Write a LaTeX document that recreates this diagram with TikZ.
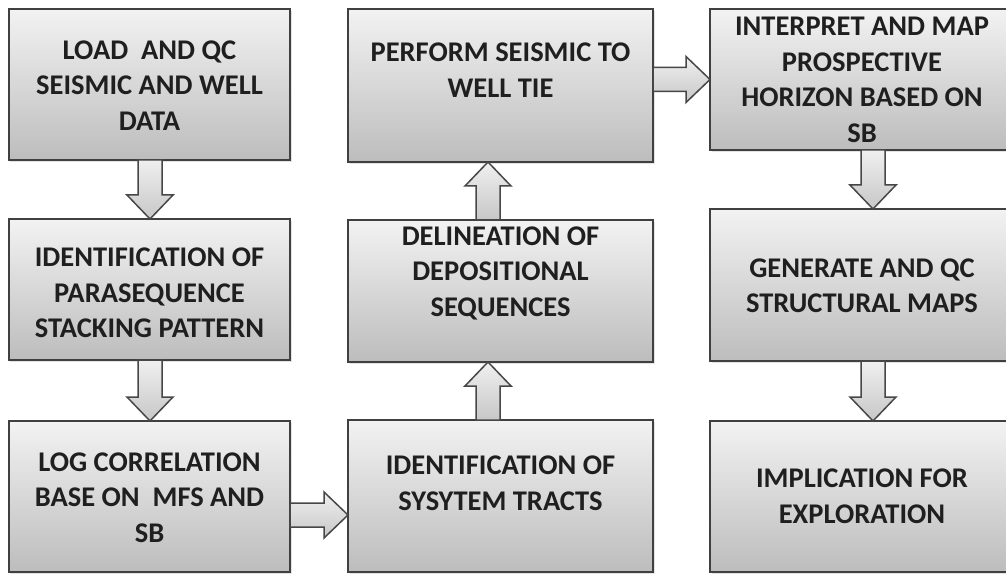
\documentclass[tikz,border=0pt]{standalone}
\usepackage{fontspec}
\setmainfont{Carlito}
\usetikzlibrary{calc,shadows}
\tikzset{
  box/.style={draw=black!75, line width=1.8bp, top color=black!5, bottom color=black!26,
    inner sep=0pt, outer sep=0pt, rectangle,
    drop shadow={opacity=0.22, shadow xshift=1.5bp, shadow yshift=-2bp}},
  txt/.style={align=center, inner sep=0pt, text=black!88,
    font=\bfseries\fontsize{28.5bp}{35.5bp}\selectfont},
  blockarrow/.style={draw=black!72, line width=1.5bp, line join=miter,
    top color=black!6, bottom color=black!22}
}
\newcommand\arrdown[3]{%
  \path ($(#1.south)+(#3,0)$) coordinate (s) (s |- #2.north) coordinate (t);
  \draw[blockarrow] ($(s)+(-12,0)$) -- ($(t)+(-12,-24)$) -- ($(t)+(-23,-24)$) -- (t)
    -- ($(t)+(23,-24)$) -- ($(t)+(12,-24)$) -- ($(s)+(12,0)$) -- cycle;}
\newcommand\arrup[3]{%
  \path ($(#1.north)+(#3,0)$) coordinate (s) (s |- #2.south) coordinate (t);
  \draw[blockarrow] ($(s)+(-12,0)$) -- ($(t)+(-12,24)$) -- ($(t)+(-23,24)$) -- (t)
    -- ($(t)+(23,24)$) -- ($(t)+(12,24)$) -- ($(s)+(12,0)$) -- cycle;}
\newcommand\arrright[3]{%
  \path ($(#1.east)+(0,#3)$) coordinate (s) (s -| #2.west) coordinate (t);
  \draw[blockarrow] ($(s)+(0,-12)$) -- ($(t)+(-24,-12)$) -- ($(t)+(-24,-23)$) -- (t)
    -- ($(t)+(-24,23)$) -- ($(t)+(-24,12)$) -- ($(s)+(0,12)$) -- cycle;}
\begin{document}
\begin{tikzpicture}[x=1bp,y=-1bp]
\useasboundingbox (0,0) rectangle (1006,574);
\clip (0,0) rectangle (1006,574);
\fill[white] (0,0) rectangle (1006,574);

% boxes
\node[box, minimum width=281bp, minimum height=151bp] (b1) at (149.5,84.5) {};
\node[box, minimum width=281bp, minimum height=141bp] (b2) at (149.5,289.5) {};
\node[box, minimum width=281bp, minimum height=151bp] (b3) at (149.5,496.5) {};
\node[box, minimum width=305bp, minimum height=152bp] (b4) at (500.5,496) {};
\node[box, minimum width=305bp, minimum height=142bp] (b5) at (500.5,291) {};
\node[box, minimum width=305bp, minimum height=153bp] (b6) at (500.5,85.5) {};
\node[box, minimum width=304bp, minimum height=141bp] (b7) at (862,79.5) {};
\node[box, minimum width=304bp, minimum height=152bp] (b8) at (862,285) {};
\node[box, minimum width=304bp, minimum height=151bp] (b9) at (862,496.5) {};

% texts
\node[txt] (t1) at (149.5,85.5) {LOAD~ AND QC\\SEISMIC AND WELL\\DATA};
\node[txt] (t2) at (149.5,293) {IDENTIFICATION OF\\PARASEQUENCE\\STACKING PATTERN};
\node[txt] (t3) at (149.5,497.7) {LOG CORRELATION\\BASE ON~ MFS AND\\SB};
\node[txt] (t4) at (500.5,483) {IDENTIFICATION OF\\SYSYTEM TRACTS};
\node[txt] (t5) at (500.5,273.3) {DELINEATION OF\\DEPOSITIONAL\\SEQUENCES};
\node[txt] (t6) at (500.5,70) {PERFORM SEISMIC TO\\WELL TIE};
\node[txt] (t7) at (862,80) {INTERPRET AND MAP\\PROSPECTIVE\\HORIZON BASED ON\\SB};
\node[txt] (t8) at (862,286) {GENERATE AND QC\\STRUCTURAL MAPS};
\node[txt] (t9) at (862,496) {IMPLICATION FOR\\EXPLORATION};

% block arrows
\arrdown{b1}{b2}{0.5}
\arrdown{b2}{b3}{0.5}
\arrright{b3}{b4}{18.5}
\arrup{b4}{b5}{-12.5}
\arrup{b5}{b6}{-12.5}
\arrright{b6}{b7}{-6}
\arrdown{b7}{b8}{11}
\arrdown{b8}{b9}{11}
\end{tikzpicture}
\end{document}
